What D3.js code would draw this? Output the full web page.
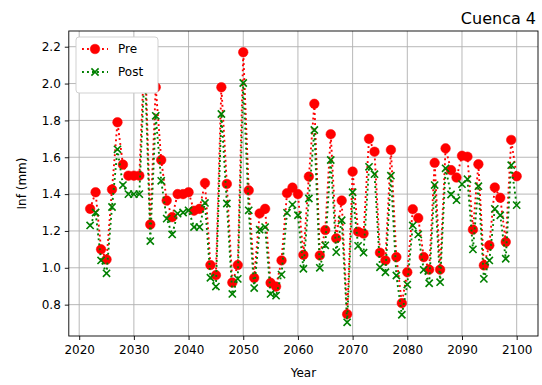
<!DOCTYPE html>
<html><head><meta charset="utf-8">
<script src="https://cdn.jsdelivr.net/npm/d3@7"></script>
<style>
body{margin:0;background:#fff;}
text{font-family:"DejaVu Sans",sans-serif;fill:#000;}
</style></head>
<body><svg id="c" width="542" height="385"></svg>
<script>
const years = d3.range(2022, 2101);
const preValues = [1.32,1.41,1.10,1.045,1.425,1.79,1.56,1.50,1.50,1.50,
  2.21,1.235,1.98,1.585,1.365,1.275,1.40,1.40,1.41,1.31,
  1.32,1.46,1.015,0.96,1.98,1.455,0.92,1.015,2.17,1.42,
  0.945,1.295,1.32,0.918,0.898,1.04,1.405,1.435,1.40,1.07,
  1.495,1.89,1.067,1.205,1.725,1.16,1.365,0.748,1.522,1.196,
  1.186,1.70,1.63,1.082,1.04,1.64,1.058,0.808,0.976,1.318,
  1.27,1.058,0.99,1.57,0.99,1.648,1.53,1.49,1.608,1.603,
  1.207,1.562,1.013,1.122,1.436,1.38,1.14,1.694,1.497];
const postValues = [1.23,1.30,1.04,0.97,1.33,1.643,1.449,1.40,1.40,1.40,
  2.10,1.145,1.825,1.472,1.267,1.181,1.294,1.30,1.312,1.221,
  1.221,1.352,0.946,0.898,1.835,1.349,0.858,0.94,2.003,1.312,
  0.89,1.207,1.221,0.858,0.849,0.963,1.298,1.343,1.285,0.995,
  1.376,1.748,1.00,1.122,1.585,1.085,1.258,0.704,1.41,1.119,
  1.082,1.548,1.508,1.003,0.976,1.50,0.958,0.745,0.909,1.23,
  1.181,0.989,0.916,1.449,0.922,1.54,1.398,1.367,1.454,1.481,
  1.10,1.443,0.94,1.04,1.32,1.285,1.049,1.557,1.34];
const xTicks = [2020,2030,2040,2050,2060,2070,2080,2090,2100];
const yTicks = [0.8,1.0,1.2,1.4,1.6,1.8,2.0,2.2];
const seriesNames = ["Pre","Post"];
const title = "Cuenca 4", xLabel = "Year", yLabel = "Inf (mm)";

const L=68.8, R=538, T=31, B=336;
const svg = d3.select("#c");
const x = d3.scaleLinear().domain([2018.1,2103.9]).range([L,R]);
const y = d3.scaleLinear().domain([0.6298,2.2853]).range([B,T]);

const g = svg.append("g");
g.selectAll(".gx").data(xTicks).enter().append("line")
 .attr("x1",d=>x(d)).attr("x2",d=>x(d)).attr("y1",T).attr("y2",B)
 .attr("stroke","#b0b0b0").attr("stroke-width",0.9);
g.selectAll(".gy").data(yTicks).enter().append("line")
 .attr("y1",d=>y(d)).attr("y2",d=>y(d)).attr("x1",L).attr("x2",R)
 .attr("stroke","#b0b0b0").attr("stroke-width",0.9);

const xa = svg.append("g").attr("transform",`translate(0,${B})`)
 .call(d3.axisBottom(x).tickValues(xTicks).tickFormat(d3.format("d")).tickSize(4).tickPadding(5));
const ya = svg.append("g").attr("transform",`translate(${L},0)`)
 .call(d3.axisLeft(y).tickValues(yTicks).tickFormat(d3.format(".1f")).tickSize(4).tickPadding(4));
[xa,ya].forEach(a=>{a.select(".domain").remove();
 a.selectAll("text").style("font-size","12px").style("font-family","DejaVu Sans").attr("fill","#000");
 a.selectAll("line").attr("stroke","#000").attr("stroke-width",0.9);});

const data = [
 {name:seriesNames[0], vals:preValues, color:"#ff0000", marker:"o"},
 {name:seriesNames[1], vals:postValues, color:"#008000", marker:"x"}];

const line = d3.line().x((d,i)=>x(years[i])).y(d=>y(d));
function drawMarker(sel, m, color){
  if(m==="o"){
    sel.append("circle").attr("r",4.8).attr("fill",color).attr("stroke",color).attr("stroke-width",0.5);
  } else {
    const s=3.6;
    sel.append("path").attr("d",`M${-s},${-s}L${s},${s}M${-s},${s}L${s},${-s}`)
      .attr("stroke",color).attr("stroke-width",1.6).attr("fill","none");
  }
}
const plot = svg.append("g");
data.forEach(s=>{
  plot.append("path").attr("d",line(s.vals)).attr("fill","none")
    .attr("stroke",s.color).attr("stroke-width",1.9).attr("stroke-dasharray","1.9,3.1");
  s.vals.forEach((v,i)=>{
    const m = plot.append("g").attr("transform",`translate(${x(years[i])},${y(v)})`);
    drawMarker(m,s.marker,s.color);
  });
});

svg.append("rect").attr("x",L).attr("y",T).attr("width",R-L).attr("height",B-T)
 .attr("fill","none").attr("stroke","#000").attr("stroke-width",0.9);

const lg = svg.append("g");
lg.append("rect").attr("x",76).attr("y",37).attr("width",82).attr("height",56).attr("rx",3)
 .style("fill","#ffffff").style("stroke","#cccccc").style("stroke-width",0.9);
data.forEach((s,i)=>{
  const cy = 49 + i*23;
  lg.append("line").attr("x1",82).attr("x2",108).attr("y1",cy).attr("y2",cy)
    .attr("stroke",s.color).attr("stroke-width",1.9).attr("stroke-dasharray","1.9,3.1");
  const m = lg.append("g").attr("transform",`translate(95,${cy})`);
  drawMarker(m,s.marker,s.color);
  lg.append("text").attr("x",118).attr("y",cy).attr("dy","0.36em").style("font-size","12px").text(s.name);
});

svg.append("text").attr("x",R-2).attr("y",24).attr("text-anchor","end").style("font-size","16px").text(title);
svg.append("text").attr("x",(L+R)/2).attr("y",377).attr("text-anchor","middle").style("font-size","12px").text(xLabel);
svg.append("text").attr("transform",`translate(26,${(T+B)/2}) rotate(-90)`).attr("text-anchor","middle").style("font-size","12px").text(yLabel);
</script></body></html>
